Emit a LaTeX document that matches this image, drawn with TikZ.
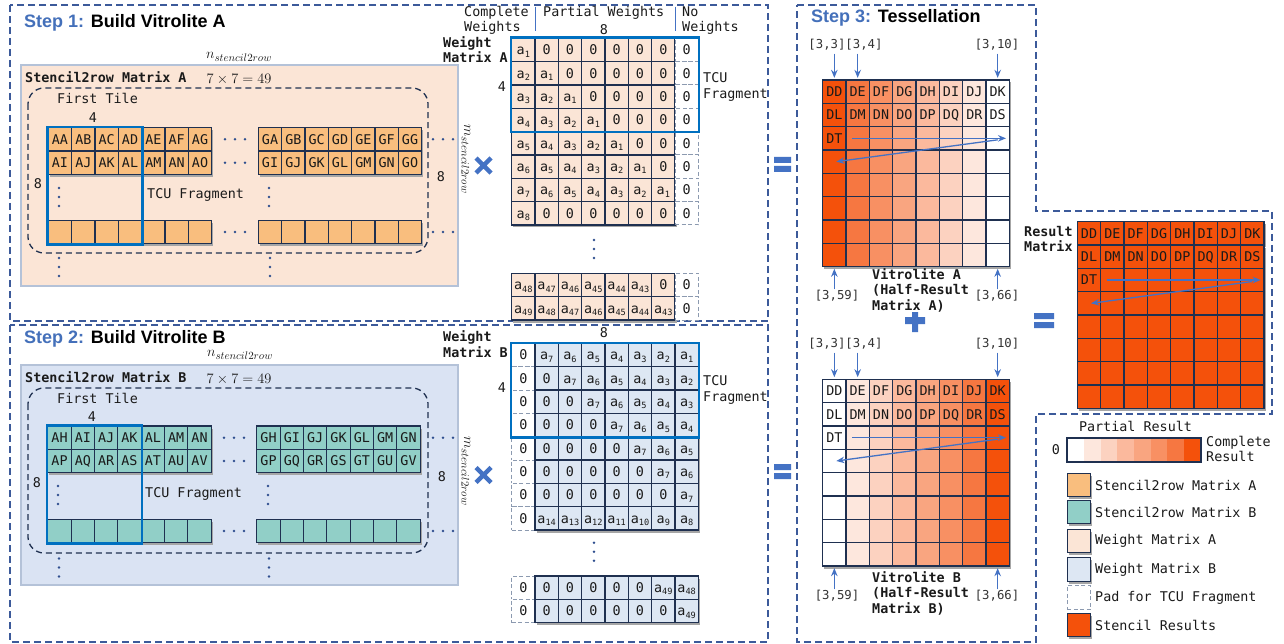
\documentclass[tikz,border=0pt]{standalone}
\usepackage[no-math]{fontspec}
\setmainfont{Liberation Sans}
\setmonofont{DejaVu Sans Mono}
\usetikzlibrary{arrows.meta,shadows}

\definecolor{frameblue}{HTML}{3C5A9A}
\definecolor{stepblue}{HTML}{4470BA}
\definecolor{navy}{HTML}{1F3050}
\definecolor{tcublue}{HTML}{0070C0}
\definecolor{arrblue}{HTML}{4472C4}
\definecolor{orangecell}{HTML}{F9BE7E}
\definecolor{tealcell}{HTML}{91CFC7}
\definecolor{peach}{HTML}{FBE5D6}
\definecolor{lightbg}{HTML}{DAE3F3}
\definecolor{wbcell}{HTML}{DDE7F3}
\definecolor{res}{HTML}{F4510B}
\definecolor{bgborder}{HTML}{B4C2D8}
\definecolor{padgray}{HTML}{8C9AB0}
\definecolor{txt}{HTML}{1A1A1A}
\definecolor{dotblue}{HTML}{2F4F8F}
\colorlet{lv1}{white}
\colorlet{lv2}{res!14}
\colorlet{lv3}{res!26}
\colorlet{lv4}{res!40}
\colorlet{lv5}{res!52}
\colorlet{lv6}{res!64}
\colorlet{lv7}{res!78}
\colorlet{lv8}{res}
\colorlet{va1}{lv8}\colorlet{va2}{lv7}\colorlet{va3}{lv6}\colorlet{va4}{lv5}
\colorlet{va5}{lv4}\colorlet{va6}{lv3}\colorlet{va7}{lv2}\colorlet{va8}{lv1}
\colorlet{vb1}{lv1}\colorlet{vb2}{lv2}\colorlet{vb3}{lv3}\colorlet{vb4}{lv4}
\colorlet{vb5}{lv5}\colorlet{vb6}{lv6}\colorlet{vb7}{lv7}\colorlet{vb8}{lv8}

\newcommand{\monofs}{\ttfamily\fontsize{13.4}{15.5}\selectfont}
\newcommand{\monobf}{\ttfamily\bfseries\fontsize{13.4}{15.5}\selectfont}
\newcommand{\coordfs}{\ttfamily\fontsize{12.3}{14}\selectfont}
\newcommand{\ai}[1]{a\raisebox{-2.4pt}{\fontsize{8.6}{9}\selectfont #1}}
\newcommand{\crow}[5]{\foreach \t [count=\c] in {#5} {\node[#2] (#1-\c) at ({#3+(\c-1)*23.333},{#4}) {\t};}}
\newcommand{\erow}[5]{\foreach \c in {1,...,#5} {\node[#2] (#1-\c) at ({#3+(\c-1)*23.333},{#4}) {};}}
\newcommand{\vdotsat}[2]{\fill[dotblue] (#1,{#2-9}) circle (1.4pt) (#1,#2) circle (1.4pt) (#1,{#2+9}) circle (1.4pt);}
\newcommand{\hdotsat}[2]{\fill[dotblue] ({#1-10},#2) circle (1.4pt) (#1,#2) circle (1.4pt) ({#1+10},#2) circle (1.4pt);}

\begin{document}
\begin{tikzpicture}[x=1pt,y=-1pt,
  cell/.style={draw=navy, line width=1.3pt, minimum width=23.333pt, minimum height=23.333pt, inner sep=0pt, font=\monofs, text=txt, text height=9.8pt, text depth=0pt, drop shadow={shadow xshift=1.5pt, shadow yshift=-2.5pt, fill=black!35, opacity=1}},
  pad/.style={draw=padgray, line width=1pt, dash pattern=on 4pt off 2.5pt, fill=white, minimum width=23.333pt, minimum height=23.333pt, inner sep=0pt, font=\monofs, text=txt, text height=9.8pt, text depth=0pt},
  sa/.style={cell, fill=orangecell},
  sb/.style={cell, fill=tealcell},
  wa/.style={cell, fill=peach},
  wb/.style={cell, fill=wbcell},
  rc/.style={cell, fill=res},
  frame/.style={draw=frameblue, line width=1.6pt, dash pattern=on 7pt off 4pt},
  lbl/.style={font=\monofs, text=txt, inner sep=0pt},
  lblb/.style={font=\monobf, text=txt, inner sep=0pt, align=left},
  coordl/.style={font=\coordfs, text=black!80, inner sep=0pt},
  arr/.style={draw=arrblue, line width=1.3pt, -{Stealth[length=8pt,width=6.5pt]}},
  tcu/.style={draw=tcublue, line width=2.6pt},
  title/.style={font=\fontsize{18}{20}\selectfont\bfseries, inner sep=0pt, anchor=west, text=black},
  mathl/.style={font=\fontsize{14}{16}\selectfont, inner sep=0pt, text=txt},
  mathn/.style={font=\fontsize{15.5}{17}\selectfont, inner sep=0pt, text=txt},
  ]
\useasboundingbox (0,0) rectangle (1284,644);
\fill[white] (0,0) rectangle (1284,644);

% ---------------- frames
\draw[frame] (10,5) rectangle (768,321);
\draw[frame] (10,325) rectangle (768,642);
\draw[frame] (797,5) -- (1036,5) -- (1036,211) -- (1272,211) -- (1272,414) -- (1036,414) -- (1036,642) -- (797,642) -- cycle;

% ---------------- Step 1
\node[title] (t1) at (24,23) {{\color{stepblue}Step 1:} Build Vitrolite A};
\node[mathn] (n1) at (239,57) {$n_{stencil2row}$};
\draw[fill=peach, draw=bgborder, line width=1.2pt] (21,65) rectangle (458,286);
\node[lblb, anchor=west] (sma) at (25,77) {Stencil2row Matrix A};
\node[mathl] (e1) at (239,79) {$7\times7=49$};
\draw[navy, line width=1.3pt, dash pattern=on 6pt off 4pt, rounded corners=16pt] (28,88) rectangle (428,253);
\node[lbl, anchor=west] (ft1) at (57,98) {First Tile};
\node[lbl] (f41) at (93,118) {4};
\crow{SAr1a}{sa}{60}{139.333}{AA,AB,AC,AD,AE,AF,AG}
\crow{SAr1b}{sa}{270}{139.333}{GA,GB,GC,GD,GE,GF,GG}
\crow{SAr2a}{sa}{60}{162.667}{AI,AJ,AK,AL,AM,AN,AO}
\crow{SAr2b}{sa}{270}{162.667}{GI,GJ,GK,GL,GM,GN,GO}
\erow{SAbota}{sa}{60}{232}{7}
\erow{SAbotb}{sa}{270}{232}{7}
\draw[tcu] (SAr1a-1.north west) rectangle (SAbota-4.south east);
\node[lbl] (e81) at (38,184) {8};
\node[lbl, anchor=west] (tf1) at (147,195) {TCU Fragment};
\node[lbl] (r81) at (441,177) {8};
\vdotsat{59}{197}\vdotsat{269}{197}
\vdotsat{59}{267}\vdotsat{270}{267}
\hdotsat{235}{139.3}\hdotsat{235}{162.7}\hdotsat{235}{232}
\hdotsat{443}{139.3}\hdotsat{443}{232}
\node[mathn, rotate=-90] (m1) at (466,159) {$m_{stencil2row}$};
\draw[arrblue, line width=4.5pt] (476,158) -- (491,173) (476,173) -- (491,158);

% weight matrix A
\node[lbl, anchor=west, align=left] (cw) at (464,20.5) {Complete\\Weights};
\node[lbl, anchor=west] (pw) at (543,13) {Partial Weights};
\node[lbl] (w8a) at (604,30) {8};
\node[lbl, anchor=west, align=left] (nw) at (682,20.5) {No\\Weights};
\node[lblb, anchor=west] (wma) at (443,49.5) {Weight\\Matrix A};
\node[lbl] (w4a) at (502,87) {4};
\crow{WA1}{wa}{523.333}{50}{\ai{1},0,0,0,0,0,0}
\crow{WA2}{wa}{523.333}{73.333}{\ai{2},\ai{1},0,0,0,0,0}
\crow{WA3}{wa}{523.333}{96.667}{\ai{3},\ai{2},\ai{1},0,0,0,0}
\crow{WA4}{wa}{523.333}{120}{\ai{4},\ai{3},\ai{2},\ai{1},0,0,0}
\crow{WA5}{wa}{523.333}{143.333}{\ai{5},\ai{4},\ai{3},\ai{2},\ai{1},0,0}
\crow{WA6}{wa}{523.333}{166.667}{\ai{6},\ai{5},\ai{4},\ai{3},\ai{2},\ai{1},0}
\crow{WA7}{wa}{523.333}{190}{\ai{7},\ai{6},\ai{5},\ai{4},\ai{3},\ai{2},\ai{1}}
\crow{WA8}{wa}{523.333}{213.333}{\ai{8},0,0,0,0,0,0}
\foreach \r in {1,...,8} {\node[pad] (WAp\r) at (686.667,{50+(\r-1)*23.333}) {0};}
\crow{WAy}{wa}{523.333}{285}{\ai{48},\ai{47},\ai{46},\ai{45},\ai{44},\ai{43},0}
\crow{WAz}{wa}{523.333}{308.333}{\ai{49},\ai{48},\ai{47},\ai{46},\ai{45},\ai{44},\ai{43}}
\node[pad] (WApy) at (686.667,285) {0};
\node[pad] (WApz) at (686.667,308.333) {0};
\draw[tcu] (WA1-1.north west) rectangle (WAp4.south east);
\draw[arrblue, line width=1pt] (WA1-1.north east) ++(0,-31) -- ++(0,24);
\draw[arrblue, line width=1pt] (WA1-7.north east) ++(0,-31) -- ++(0,24);
\node[lbl, anchor=west, align=left] (tfa) at (703,87) {TCU\\Fragment};
\vdotsat{594}{249}
\fill[arrblue] (774,157) rectangle (791,163) (774,166) rectangle (791,172);

% ---------------- Step 2
\node[title] (t2) at (24,339) {{\color{stepblue}Step 2:} Build Vitrolite B};
\node[mathn] (n2) at (240,355) {$n_{stencil2row}$};
\draw[fill=lightbg, draw=bgborder, line width=1.2pt] (21,365) rectangle (458,585);
\node[lblb, anchor=west] (smb) at (25,377) {Stencil2row Matrix B};
\node[mathl] (e2) at (239,379) {$7\times7=49$};
\draw[navy, line width=1.3pt, dash pattern=on 6pt off 4pt, rounded corners=16pt] (28,388) rectangle (428,553);
\node[lbl, anchor=west] (ft2) at (57,398) {First Tile};
\node[lbl] (f42) at (92,417) {4};
\crow{SBr1a}{sb}{59.5}{437.667}{AH,AI,AJ,AK,AL,AM,AN}
\crow{SBr1b}{sb}{268.5}{437.667}{GH,GI,GJ,GK,GL,GM,GN}
\crow{SBr2a}{sb}{59.5}{461}{AP,AQ,AR,AS,AT,AU,AV}
\crow{SBr2b}{sb}{268.5}{461}{GP,GQ,GR,GS,GT,GU,GV}
\erow{SBbota}{sb}{59.5}{531}{7}
\erow{SBbotb}{sb}{268.5}{531}{7}
\draw[tcu] (SBr1a-1.north west) rectangle (SBbota-4.south east);
\node[lbl] (e82) at (37,483) {8};
\node[lbl, anchor=west] (tf2) at (145,494) {TCU Fragment};
\node[lbl] (r82) at (442,477) {8};
\vdotsat{58}{495}\vdotsat{268}{495}
\vdotsat{59}{567.5}\vdotsat{269}{567.5}
\hdotsat{234}{437.7}\hdotsat{234}{461}\hdotsat{234}{531}
\hdotsat{443}{437.7}\hdotsat{443}{531}
\node[mathn, rotate=-90] (m2) at (466,471) {$m_{stencil2row}$};
\draw[arrblue, line width=4.5pt] (476,467.5) -- (491,482.5) (476,482.5) -- (491,467.5);

% weight matrix B
\node[lbl] (w8b) at (604,333) {8};
\node[lblb, anchor=west] (wmb) at (443,344) {Weight\\Matrix B};
\node[lbl] (w4b) at (502,388) {4};
\foreach \r in {1,...,8} {\node[pad] (WBp\r) at (523.333,{355+(\r-1)*23.333}) {0};}
\crow{WB1}{wb}{546.667}{355}{\ai{7},\ai{6},\ai{5},\ai{4},\ai{3},\ai{2},\ai{1}}
\crow{WB2}{wb}{546.667}{378.333}{0,\ai{7},\ai{6},\ai{5},\ai{4},\ai{3},\ai{2}}
\crow{WB3}{wb}{546.667}{401.667}{0,0,\ai{7},\ai{6},\ai{5},\ai{4},\ai{3}}
\crow{WB4}{wb}{546.667}{425}{0,0,0,\ai{7},\ai{6},\ai{5},\ai{4}}
\crow{WB5}{wb}{546.667}{448.333}{0,0,0,0,\ai{7},\ai{6},\ai{5}}
\crow{WB6}{wb}{546.667}{471.667}{0,0,0,0,0,\ai{7},\ai{6}}
\crow{WB7}{wb}{546.667}{495}{0,0,0,0,0,0,\ai{7}}
\crow{WB8}{wb}{546.667}{518.333}{\ai{14},\ai{13},\ai{12},\ai{11},\ai{10},\ai{9},\ai{8}}
\node[pad] (WBpy) at (523.333,587.667) {0};
\node[pad] (WBpz) at (523.333,611) {0};
\crow{WBy}{wb}{546.667}{587.667}{0,0,0,0,0,\ai{49},\ai{48}}
\crow{WBz}{wb}{546.667}{611}{0,0,0,0,0,0,\ai{49}}
\draw[tcu] (WBp1.north west) rectangle (WB4-7.south east);
\node[lbl, anchor=west, align=left] (tfb) at (703,390) {TCU\\Fragment};
\vdotsat{594}{551.7}
\fill[arrblue] (774,464) rectangle (791,470) (774,473) rectangle (791,479);

% ---------------- Step 3
\node[title] (t3) at (811,18) {{\color{stepblue}Step 3:} Tessellation};
% Vitrolite A
\crow{VA1}{cell,fill=va\c}{834.333}{91.667}{DD,DE,DF,DG,DH,DI,DJ,DK}
\crow{VA2}{cell,fill=va\c}{834.333}{115}{DL,DM,DN,DO,DP,DQ,DR,DS}
\crow{VA3}{cell,fill=va\c}{834.333}{138.333}{DT,\relax,\relax,\relax,\relax,\relax,\relax,\relax}
\foreach \r in {4,...,8} {\erow{VA\r}{cell,fill=va\c}{834.333}{91.667+(\r-1)*23.333}{8}}
\node[coordl] (a33) at (827,45) {[3,3]};
\node[coordl] (a34) at (864,45) {[3,4]};
\node[coordl] (a310) at (997,45) {[3,10]};
\node[coordl] (a359) at (837,296) {[3,59]};
\node[coordl] (a366) at (997,296) {[3,66]};
\draw[arr, shorten <=3pt, shorten >=1.5pt] (VA1-1.north |- a33.south) -- (VA1-1.north);
\draw[arr, shorten <=3pt, shorten >=1.5pt] (VA1-2.north |- a34.south) -- (VA1-2.north);
\draw[arr, shorten <=3pt, shorten >=1.5pt] (VA1-8.north |- a310.south) -- (VA1-8.north);
\draw[arr, shorten <=1pt, shorten >=1.5pt] (VA8-1.south |- a359.north) -- (VA8-1.south);
\draw[arr, shorten <=1pt, shorten >=1.5pt] (VA8-8.south |- a366.north) -- (VA8-8.south);
\draw[arr] ([xshift=7pt]VA3-2.west) -- ([xshift=-4pt]VA3-8.east);
\draw[arr] ([yshift=-1.5pt]VA3-8.center) -- ([xshift=2pt]VA4-1.center);
\node[lblb, anchor=west] (vla) at (872,290) {Vitrolite A\\(Half-Result\\Matrix A)};
\fill[arrblue] (905,317) rectangle (925,324) (912,312) rectangle (918,332);

% Vitrolite B
\crow{VB1}{cell,fill=vb\c}{834.333}{391}{DD,DE,DF,DG,DH,DI,DJ,DK}
\crow{VB2}{cell,fill=vb\c}{834.333}{414.333}{DL,DM,DN,DO,DP,DQ,DR,DS}
\crow{VB3}{cell,fill=vb\c}{834.333}{437.667}{DT,\relax,\relax,\relax,\relax,\relax,\relax,\relax}
\foreach \r in {4,...,8} {\erow{VB\r}{cell,fill=vb\c}{834.333}{391+(\r-1)*23.333}{8}}
\node[coordl] (b33) at (827,344) {[3,3]};
\node[coordl] (b34) at (864,344) {[3,4]};
\node[coordl] (b310) at (997,344) {[3,10]};
\node[coordl] (b359) at (837,596) {[3,59]};
\node[coordl] (b366) at (997,596) {[3,66]};
\draw[arr, shorten <=3pt, shorten >=1.5pt] (VB1-1.north |- b33.south) -- (VB1-1.north);
\draw[arr, shorten <=3pt, shorten >=1.5pt] (VB1-2.north |- b34.south) -- (VB1-2.north);
\draw[arr, shorten <=3pt, shorten >=1.5pt] (VB1-8.north |- b310.south) -- (VB1-8.north);
\draw[arr, shorten <=1pt, shorten >=1.5pt] (VB8-1.south |- b359.north) -- (VB8-1.south);
\draw[arr, shorten <=1pt, shorten >=1.5pt] (VB8-8.south |- b366.north) -- (VB8-8.south);
\draw[arr] ([xshift=7pt]VB3-2.west) -- ([xshift=-4pt]VB3-8.east);
\draw[arr] ([yshift=-1.5pt]VB3-8.center) -- ([xshift=2pt]VB4-1.center);
\node[lblb, anchor=west] (vlb) at (872,593) {Vitrolite B\\(Half-Result\\Matrix B)};

% Result matrix
\node[lblb, anchor=west] (rm) at (1024,239) {Result\\Matrix};
\crow{R1}{rc}{1089}{233.333}{DD,DE,DF,DG,DH,DI,DJ,DK}
\crow{R2}{rc}{1089}{256.667}{DL,DM,DN,DO,DP,DQ,DR,DS}
\crow{R3}{rc}{1089}{280}{DT,\relax,\relax,\relax,\relax,\relax,\relax,\relax}
\foreach \r in {4,...,8} {\erow{R\r}{rc}{1089}{233.333+(\r-1)*23.333}{8}}
\draw[arr] ([xshift=7pt]R3-2.west) -- ([xshift=-4pt]R3-8.east);
\draw[arr] ([yshift=-1.5pt]R3-8.center) -- ([xshift=2pt]R4-1.center);
\fill[arrblue] (1034,313) rectangle (1054,319) (1034,322) rectangle (1054,328);

% Legend
\node[lbl] (pr) at (1135.5,426.7) {Partial Result};
\node[lbl] (z0) at (1056,450) {0};
\foreach \k in {1,...,8} {\node[fill=lv\k, minimum width=16.667pt, minimum height=23.333pt, inner sep=0pt] (LB\k) at ({1075.667+(\k-1)*16.667},450) {};}
\draw[navy, line width=1.3pt] (LB1.north west) rectangle (LB8.south east);
\node[lbl, anchor=west, align=left] (cr) at (1206,449) {Complete\\Result};
\node[sa] (L1) at (1079,485) {};
\node[lbl, anchor=west] (L1t) at (1095,485) {Stencil2row Matrix A};
\node[sb] (L2) at (1079,512) {};
\node[lbl, anchor=west] (L2t) at (1095,512) {Stencil2row Matrix B};
\node[wa] (L3) at (1079,541) {};
\node[lbl, anchor=west] (L3t) at (1095,541) {Weight Matrix A};
\node[wb] (L4) at (1079,569.5) {};
\node[lbl, anchor=west] (L4t) at (1095,569.5) {Weight Matrix B};
\node[pad] (L5) at (1079,597.5) {};
\node[lbl, anchor=west] (L5t) at (1095,597.5) {Pad for TCU Fragment};
\node[rc] (L6) at (1079,625) {};
\node[lbl, anchor=west] (L6t) at (1095,625) {Stencil Results};
\end{tikzpicture}
\end{document}
